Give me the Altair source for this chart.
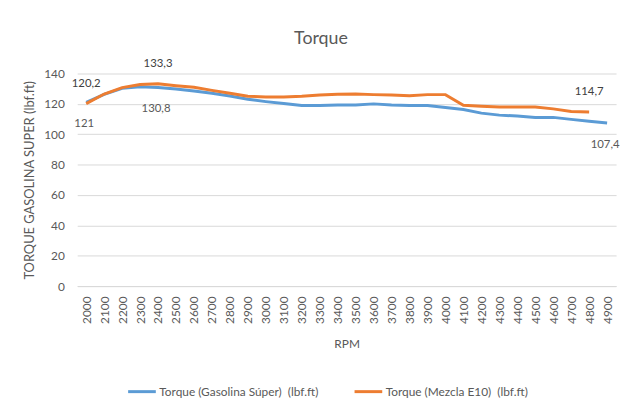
import altair as alt
import pandas as pd

rpm = [2000, 2100, 2200, 2300, 2400, 2500, 2600, 2700, 2800, 2900,
       3000, 3100, 3200, 3300, 3400, 3500, 3600, 3700, 3800, 3900,
       4000, 4100, 4200, 4300, 4400, 4500, 4600, 4700, 4800, 4900]

gasolina = [121.0, 126.3, 130.2, 131.3, 130.8, 129.8, 128.5, 127.0, 125.2, 123.0,
            121.5, 120.2, 118.9, 118.9, 119.3, 119.3, 120.0, 119.3, 118.9, 118.9,
            117.6, 116.3, 113.9, 112.6, 112.0, 111.1, 111.1, 109.8, 108.5, 107.4]

e10 = [120.2, 126.5, 130.7, 132.8, 133.3, 132.0, 130.9, 128.9, 127.0, 125.0,
       124.6, 124.6, 125.0, 125.9, 126.3, 126.5, 126.1, 125.9, 125.4, 126.1,
       126.1, 119.1, 118.5, 118.0, 118.0, 118.0, 116.7, 115.0, 114.7]

s_gas = "Torque (Gasolina Súper)\u00a0 (lbf.ft)"
s_e10 = "Torque (Mezcla E10)\u00a0 (lbf.ft)"
series = [s_gas, s_e10]
colors = ["#5B9BD5", "#ED7D31"]

gas_label_rpm = [2000, 2400, 4900]
e10_label_rpm = [2000, 2400, 4800]

y_ticks = [0, 20, 40, 60, 80, 100, 120, 140]

rows = []
for r, v in zip(rpm, gasolina):
    rows.append({"rpm": str(r), "torque": v, "serie": s_gas})
for r, v in zip(rpm, e10):
    rows.append({"rpm": str(r), "torque": v, "serie": s_e10})
df = pd.DataFrame(rows)

def fmt(v):
    return f"{v:g}".replace(".", ",")

gas_lab = pd.DataFrame([{"rpm": str(r), "torque": v, "txt": fmt(v)}
                        for r, v in zip(rpm, gasolina) if r in gas_label_rpm])
e10_lab = pd.DataFrame([{"rpm": str(r), "torque": v, "txt": fmt(v)}
                        for r, v in zip(rpm, e10) if r in e10_label_rpm])

FONT = "Lato"
GREY = "#595959"

x_enc = alt.X("rpm:O", sort=[str(r) for r in rpm],
              scale=alt.Scale(type="point", padding=0.5),
              axis=alt.Axis(title="RPM", labelAngle=-90, labelPadding=10,
                            ticks=False, domainColor="#D9D9D9",
                            labelColor=GREY, titleColor=GREY,
                            labelFontSize=12, titleFontSize=12,
                            titleFontWeight="normal", titlePadding=15,
                            labelFont=FONT, titleFont=FONT))
y_enc = alt.Y("torque:Q", scale=alt.Scale(domain=[0, 140], nice=False),
              axis=alt.Axis(title="TORQUE  GASOLINA SUPER (lbf.ft)",
                            values=y_ticks, ticks=False, domain=False,
                            gridColor="#D9D9D9", labelPadding=13,
                            labelColor=GREY, titleColor=GREY,
                            labelFontSize=12, titleFontSize=13,
                            titleFontWeight="normal", titlePadding=7,
                            labelFont=FONT, titleFont=FONT))

lines = alt.Chart(df).mark_line(strokeWidth=3).encode(
    x=x_enc, y=y_enc,
    color=alt.Color("serie:N", scale=alt.Scale(domain=series, range=colors),
                    legend=alt.Legend(title=None, orient="none", direction="horizontal",
                                      legendX=50, legendY=306,
                                      symbolType="stroke", symbolSize=784,
                                      symbolStrokeWidth=3, labelOffset=2,
                                      columnPadding=30, labelLimit=400,
                                      labelFontSize=12, labelColor=GREY,
                                      labelFont=FONT)),
)

gas_text = alt.Chart(gas_lab).mark_text(dy=22, dx=-2, fontSize=11.5, color=GREY, font=FONT,
                                        baseline="middle").encode(
    x=x_enc, y=y_enc, text="txt:N")
e10_text = alt.Chart(e10_lab).mark_text(dy=-20, fontSize=11.5, color="#404040", font=FONT,
                                        baseline="middle").encode(
    x=x_enc, y=y_enc, text="txt:N")

chart = alt.layer(lines, gas_text, e10_text).properties(
    width=545, height=215,
    title=alt.Title("Torque", fontSize=18, font=FONT, fontWeight="normal",
                    color=GREY, dx=-26, offset=10),
    autosize=alt.AutoSizeParams(type="none"),
    padding={"left": 70, "top": 64, "right": 7, "bottom": 118},
).configure_view(stroke=None)

chart.save("out.html", embed_options={"renderer": "svg", "actions": False})
